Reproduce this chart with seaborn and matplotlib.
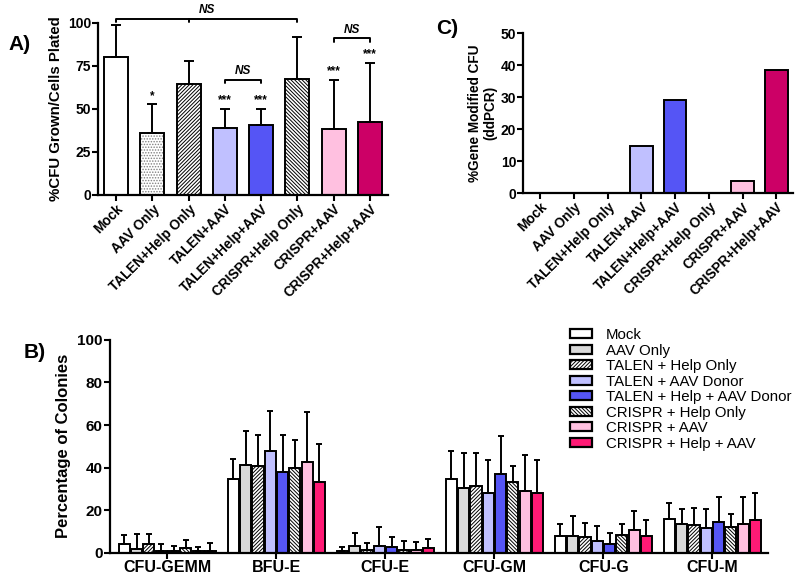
import matplotlib
matplotlib.use('Agg')
import matplotlib.pyplot as plt
from matplotlib.patches import Patch, Rectangle
import seaborn as sns
import pandas as pd
import numpy as np

# ---- data ----
conditions = ['Mock', 'AAV Only', 'TALEN+Help Only', 'TALEN+AAV', 'TALEN+Help+AAV',
              'CRISPR+Help Only', 'CRISPR+AAV', 'CRISPR+Help+AAV']
legend_labels = ['Mock', 'AAV Only', 'TALEN + Help Only', 'TALEN + AAV Donor',
                 'TALEN + Help + AAV Donor', 'CRISPR + Help Only', 'CRISPR + AAV',
                 'CRISPR + Help + AAV']

# panel A
cfu_plated = [80.4, 36.2, 64.5, 38.7, 40.7, 67.6, 38.4, 42.2]
cfu_plated_sd = [18.3, 16.5, 13.4, 11.3, 9.3, 24.3, 28.5, 34.7]
stars = ['', '*', '', '***', '***', '', '***', '***']

# panel C
gene_modified = [0, 0, 0, 14.8, 29.0, 0, 3.9, 38.5]

# panel B
colony_types = ['CFU-GEMM', 'BFU-E', 'CFU-E', 'CFU-GM', 'CFU-G', 'CFU-M']
pct_gemm = [3.9, 1.7, 4.0, 0.8, 0.6, 2.0, 0.6, 0.8]
sd_gemm = [4.5, 6.9, 5.0, 3.1, 2.5, 4.0, 1.9, 3.6]
pct_bfue = [34.5, 41.0, 40.8, 47.7, 37.7, 39.8, 42.7, 33.0]
sd_bfue = [9.5, 16.0, 14.7, 19.0, 17.5, 13.2, 23.3, 18.0]
pct_cfue = [0.6, 3.0, 1.2, 3.4, 2.8, 1.4, 1.1, 2.3]
sd_cfue = [1.9, 6.5, 3.2, 8.6, 4.4, 4.2, 3.9, 4.1]
pct_gm = [34.7, 30.6, 31.3, 28.3, 36.9, 33.4, 29.2, 28.0]
sd_gm = [13.3, 16.4, 15.4, 15.1, 18.1, 7.4, 16.8, 15.7]
pct_g = [7.8, 7.8, 7.2, 5.6, 3.9, 8.1, 10.8, 8.0]
sd_g = [5.6, 9.5, 6.8, 6.9, 5.3, 5.3, 8.6, 7.3]
pct_m = [15.8, 13.3, 13.0, 11.6, 14.5, 12.2, 13.3, 15.5]
sd_m = [7.6, 7.2, 7.8, 8.9, 11.9, 5.9, 13.1, 12.5]

colors_a = ['white', 'white', 'white', '#c0c0ff', '#5555f5', 'white', '#ffc0e0', '#cc0066']
colors_b = ['white', '#d9d9d9', 'white', '#c0c0ff', '#5555f5', 'white', '#ffc0e0', '#ff1a75']
hatches = [None, None, '/' * 9, None, None, '\\' * 9, None, None]

sns.set_style('ticks')
plt.rcParams['font.family'] = ['Liberation Sans', 'DejaVu Sans']
plt.rcParams['hatch.linewidth'] = 0.7
for key in ['text.color', 'axes.labelcolor', 'xtick.color', 'ytick.color', 'axes.edgecolor']:
    plt.rcParams[key] = 'black'

fig = plt.figure(figsize=(8, 5.8), dpi=100)
ax_a = fig.add_axes([0.1225, 0.6638, 0.3625, 0.2966])
ax_c = fig.add_axes([0.654, 0.667, 0.3375, 0.276])
ax_b = fig.add_axes([0.137, 0.047, 0.823, 0.367])


def style_axis(ax, size):
    sns.despine(ax=ax)
    for s in ['left', 'bottom']:
        ax.spines[s].set_linewidth(1.6)
    ax.tick_params(width=1.5, length=4, labelsize=size, pad=1)
    for lab in ax.get_xticklabels() + ax.get_yticklabels():
        lab.set_fontweight('bold')


# ---- panel A ----
sns.barplot(x=conditions, y=cfu_plated, hue=conditions, palette=colors_a, width=0.66,
            saturation=1, edgecolor='black', linewidth=1.4, legend=False, ax=ax_a)
bars_a = list(ax_a.patches)
for i, p in enumerate(bars_a):
    if hatches[i]:
        p.set_hatch(hatches[i])
    xc = p.get_x() + p.get_width() / 2
    ax_a.errorbar(xc, p.get_height(), yerr=[[0], [cfu_plated_sd[i]]], fmt='none',
                  ecolor='black', elinewidth=1.4, capsize=3.5, capthick=1.4, zorder=1)
    if stars[i]:
        ax_a.text(xc, p.get_height() + cfu_plated_sd[i] + 1.5, stars[i], ha='center',
                  va='bottom', fontsize=8.5, fontweight='bold')
# stippled AAV Only bar
p = bars_a[1]
p.set_hatch('......')
p.set_edgecolor('#808080')
p.set_linewidth(0)
ax_a.add_patch(Rectangle(p.get_xy(), p.get_width(), p.get_height(), fill=False,
                         ec='black', lw=1.4, zorder=p.get_zorder() + 0.1))


def bracket(ax, x0, x1, y, drop, label, mid=None):
    ax.plot([x0, x0, x1, x1], [y - drop, y, y, y - drop], color='black', lw=1.4,
            clip_on=False)
    if mid is not None:
        ax.plot([mid, mid], [y, y - drop], color='black', lw=1.4, clip_on=False)
    ax.text((x0 + x1) / 2, y + 1.5, label, ha='center', va='bottom', fontsize=8.5,
            fontweight='bold', style='italic', clip_on=False)


bracket(ax_a, 0, 5, 102.5, 2, 'NS', mid=2)
bracket(ax_a, 3, 4, 67, 2, 'NS')
bracket(ax_a, 6, 7, 91, 2, 'NS')

ax_a.set_ylim(0, 100)
ax_a.set_xlim(-0.5, 7.5)
ax_a.set_yticks([0, 25, 50, 75, 100])
ax_a.set_ylabel('%CFU Grown/Cells Plated', fontsize=10.8, fontweight='bold')
ax_a.yaxis.set_label_coords(-0.122, 0.5)
style_axis(ax_a, 10)
ax_a.set_xticks(range(8))
ax_a.set_xticklabels(conditions, rotation=45, ha='right', rotation_mode='anchor',
                     fontweight='bold', fontsize=9.8)

# ---- panel C ----
sns.barplot(x=conditions, y=gene_modified, hue=conditions, palette=colors_a, width=0.67,
            saturation=1, edgecolor='black', linewidth=1.4, legend=False, ax=ax_c)
for p in ax_c.patches:
    if p.get_height() == 0:
        p.set_visible(False)
ax_c.set_ylim(0, 50)
ax_c.set_xlim(-0.5, 7.5)
ax_c.set_yticks([0, 10, 20, 30, 40, 50])
ax_c.set_ylabel('%Gene Modified CFU\n(ddPCR)', fontsize=9.8, fontweight='bold',
                linespacing=1.1)
ax_c.yaxis.set_label_coords(-0.095, 0.5)
style_axis(ax_c, 10)
ax_c.set_xticks(range(8))
ax_c.set_xticklabels(conditions, rotation=45, ha='right', rotation_mode='anchor',
                     fontweight='bold', fontsize=9.8)

# ---- panel B ----
pct_rows = [pct_gemm, pct_bfue, pct_cfue, pct_gm, pct_g, pct_m]
sd_rows = [sd_gemm, sd_bfue, sd_cfue, sd_gm, sd_g, sd_m]
df_b = pd.DataFrame({
    'colony': np.repeat(colony_types, len(conditions)),
    'condition': conditions * len(colony_types),
    'pct': np.concatenate(pct_rows),
    'sd': np.concatenate(sd_rows),
})
sns.barplot(data=df_b, x='colony', y='pct', hue='condition', hue_order=conditions,
            palette=colors_b, width=0.9, gap=0.1, saturation=1, edgecolor='black',
            linewidth=1.4, legend=False, ax=ax_b)
bar_conts = list(ax_b.containers)
for i, cont in enumerate(bar_conts):
    sds = [sd_rows[g][i] for g in range(len(colony_types))]
    for bar, sd in zip(cont, sds):
        if hatches[i]:
            bar.set_hatch(hatches[i])
        xc = bar.get_x() + bar.get_width() / 2
        ax_b.errorbar(xc, bar.get_height(), yerr=[[0], [sd]], fmt='none', ecolor='black',
                      elinewidth=1.4, capsize=2.5, capthick=1.4, zorder=1)
ax_b.set_ylim(0, 100)
ax_b.set_xlim(-0.53, 5.51)
ax_b.set_yticks([0, 20, 40, 60, 80, 100])
ax_b.set_xlabel('')
ax_b.set_ylabel('Percentage of Colonies', fontsize=12, fontweight='bold')
ax_b.yaxis.set_label_coords(-0.058, 0.5)
style_axis(ax_b, 11)
for lab in ax_b.get_xticklabels():
    lab.set_fontsize(11.5)

handles = [Patch(facecolor=colors_b[i], edgecolor='black', hatch=hatches[i], lw=1.6)
           for i in range(len(conditions))]
fig.legend(handles, legend_labels, loc='upper left', bbox_to_anchor=(0.712, 0.434),
           frameon=False, fontsize=10.8, handlelength=1.5, handleheight=0.55,
           handletextpad=0.9, labelspacing=0.1, borderpad=0, borderaxespad=0)

# panel letters
fig.text(0.01, 1 - 45 / 580, 'A)', fontsize=15, fontweight='bold', va='center')
fig.text(0.03, 1 - 353 / 580, 'B)', fontsize=15, fontweight='bold', va='center')
fig.text(0.545, 1 - 28 / 580, 'C)', fontsize=15, fontweight='bold', va='center')

fig.savefig('out.png', dpi=100)
